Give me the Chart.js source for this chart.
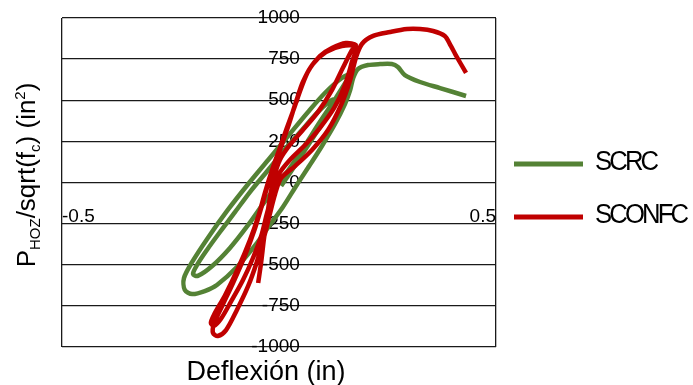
<!DOCTYPE html>
<html><head><meta charset="utf-8">
<script src="https://cdn.jsdelivr.net/npm/chart.js@4/dist/chart.umd.min.js"></script>
<style>html,body{margin:0;padding:0;background:#fff}</style>
</head><body>
<canvas id="c" width="693" height="385"></canvas>
<script>
// ---- data (deflection in inches, P_HOZ/sqrt(fc) in in^2) ----
const scrcX = [0.005,0.030,0.060,0.090,0.118,0.136,
  0.122,0.090,0.053,0.016,-0.025,-0.067,-0.101,-0.136,-0.166,-0.189,-0.198,
  -0.187,-0.154,-0.113,-0.071,-0.030,0.012,0.053,0.094,0.131,0.154,0.166,
  0.145,0.108,0.067,0.021,-0.025,-0.071,-0.118,-0.164,-0.200,-0.219,-0.217,-0.200,
  -0.171,-0.143,-0.097,-0.051,-0.021,0.009,0.041,0.071,0.099,0.129,0.152,0.164,0.171,0.182,0.205,0.233,0.260,0.274,0.290,0.325,0.371,0.431];
const scrcY = [-21,76,198,319,429,502,
  502,429,319,210,76,-58,-179,-301,-410,-502,-556,
  -568,-508,-398,-258,-106,40,198,368,514,611,660,
  635,550,429,283,137,-9,-167,-337,-483,-581,-653,-678,
  -660,-623,-514,-368,-258,-149,-15,106,222,356,477,562,635,690,714,720,720,702,653,611,574,526];
const sconfcX = [-0.048,-0.041,-0.035,-0.028,-0.021,-0.012,0.002,0.025,0.055,0.090,0.122,0.147,0.168,0.177,
  0.154,0.122,0.094,0.069,0.051,0.035,0.018,0.002,-0.016,-0.032,-0.046,-0.067,-0.094,-0.124,-0.150,-0.157,-0.150,-0.134,
  -0.111,-0.083,-0.060,-0.041,-0.028,-0.014,0.000,0.025,0.060,0.094,0.127,0.152,0.168,0.177,
  0.145,0.108,0.078,0.055,0.039,0.023,0.007,-0.009,-0.025,-0.039,-0.055,-0.078,-0.106,-0.131,-0.150,-0.152,-0.141,-0.122,
  -0.097,-0.071,-0.051,-0.035,-0.021,-0.009,0.005,0.037,0.076,0.113,0.143,0.164,0.177,0.191,0.217,0.256,0.295,0.325,0.355,0.382,0.396,0.406,0.431];
const sconfcY = [-611,-483,-350,-216,-94,27,137,228,319,429,562,696,805,836,
  848,818,769,684,574,453,331,210,76,-58,-191,-350,-520,-684,-805,-854,-872,-830,
  -726,-593,-459,-325,-191,-58,52,137,228,331,453,593,733,824,
  830,793,720,611,489,356,234,112,-9,-137,-277,-441,-611,-751,-860,-915,-933,-897,
  -775,-629,-483,-337,-191,-70,27,100,198,319,471,623,757,842,891,915,933,933,921,891,830,781,666];
const seriesNames = ['SCRC', 'SCONFC'];
const seriesColors = ['#548235', '#C00000'];
const xTickValues = [-0.5, 0.5];
const yTickValues = [-1000, -750, -500, -250, 0, 250, 500, 750, 1000];
const xTitle = 'Deflexión (in)';

const toPts = (xs, ys) => xs.map((x, i) => ({x: x, y: ys[i]}));
const FONT = "'Liberation Sans', Arial, sans-serif";

const overlay = {
  id: 'overlay',
  afterDraw(chart) {
    const ctx = chart.ctx;
    ctx.save();
    ctx.fillStyle = '#000';
    // x title
    ctx.font = '27px ' + FONT;
    ctx.textAlign = 'center';
    ctx.textBaseline = 'alphabetic';
    ctx.fillText(xTitle, 266, 380);
    // y title with sub/superscripts
    const parts = [
      {t: 'P', s: 26, dy: 0},
      {t: 'HOZ', s: 15, dy: 5},
      {t: '/sqrt(f', s: 26, dy: 0},
      {t: 'c', s: 15, dy: 5},
      {t: ') (in', s: 26, dy: 0},
      {t: '2', s: 15, dy: -10},
      {t: ')', s: 26, dy: 0}
    ];
    let W = 0;
    parts.forEach(p => { ctx.font = p.s + 'px ' + FONT; p.w = ctx.measureText(p.t).width; W += p.w; });
    ctx.translate(35, 175);
    ctx.rotate(-Math.PI / 2);
    ctx.textAlign = 'left';
    let u = -W / 2;
    parts.forEach(p => { ctx.font = p.s + 'px ' + FONT; ctx.fillText(p.t, u, p.dy); u += p.w; });
    ctx.restore();
    // legend
    ctx.save();
    const rows = [164, 217];
    seriesNames.forEach((name, i) => {
      const y = rows[i];
      ctx.strokeStyle = seriesColors[i];
      ctx.lineWidth = 5;
      ctx.beginPath(); ctx.moveTo(514, y); ctx.lineTo(583, y); ctx.stroke();
      ctx.save();
      ctx.fillStyle = '#000';
      ctx.font = '27px ' + FONT;
      ctx.textBaseline = 'middle';
      ctx.textAlign = 'left';
      try { ctx.letterSpacing = '-3px'; } catch (e) {}
      ctx.translate(595, y - 1);
      ctx.scale(0.95, 1);
      ctx.fillText(name, 0, 0);
      ctx.restore();
    });
    ctx.restore();
  }
};

new Chart(document.getElementById('c'), {
  type: 'scatter',
  data: {
    datasets: [
      {label: seriesNames[0], data: toPts(scrcX, scrcY), showLine: true, borderColor: seriesColors[0],
       backgroundColor: seriesColors[0], borderWidth: 4.5, pointRadius: 0, tension: 0.3, order: 1},
      {label: seriesNames[1], data: toPts(sconfcX, sconfcY), showLine: true, borderColor: seriesColors[1],
       backgroundColor: seriesColors[1], borderWidth: 4.5, pointRadius: 0, tension: 0.3, order: 0}
    ]
  },
  options: {
    responsive: false,
    animation: false,
    devicePixelRatio: 1,
    layout: {padding: {left: 62, right: 197, top: 18, bottom: 38}},
    plugins: {legend: {display: false}, tooltip: {enabled: false}},
    scales: {
      x: {
        type: 'linear', min: -0.5, max: 0.5,
        position: {y: -140},
        afterBuildTicks: s => { s.ticks = xTickValues.map(v => ({value: v})); },
        ticks: {align: 'inner', padding: 0, autoSkip: false, maxRotation: 0, color: '#000',
                font: {family: FONT, size: 19}, callback: v => String(v)},
        grid: {color: '#1a1a1a', lineWidth: 1.3, drawTicks: false},
        border: {display: false}
      },
      y: {
        type: 'linear', min: -1000, max: 1000,
        position: {x: 0.048},
        afterBuildTicks: s => { s.ticks = yTickValues.map(v => ({value: v})); },
        ticks: {padding: 0, color: '#000', font: {family: FONT, size: 19}, callback: v => String(v)},
        grid: {color: '#1a1a1a', lineWidth: 1.3, drawTicks: false},
        border: {display: false}
      }
    }
  },
  plugins: [overlay]
});
</script>
</body></html>
